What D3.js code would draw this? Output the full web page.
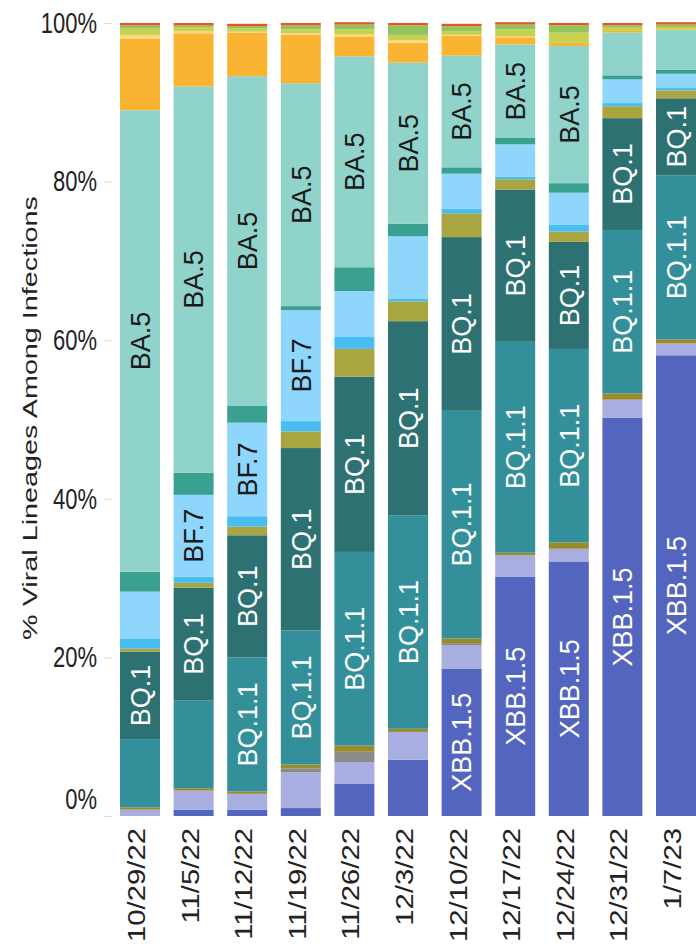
<!DOCTYPE html>
<html lang="en">
<head>
<meta charset="UTF-8">
<title>Viral Lineages Among Infections</title>
<script src="https://d3js.org/d3.v7.min.js"></script>
<style>
  body { margin: 0; background: #fff; }
  svg { display: block; }
  text { font-family: "Liberation Sans", Arial, sans-serif; }
</style>
</head>
<body>
<div id="chart"></div>
<script>
// weeks (x axis)
const weeks = ['10/29/22', '11/5/22', '11/12/22', '11/19/22', '11/26/22', '12/3/22',
               '12/10/22', '12/17/22', '12/24/22', '12/31/22', '1/7/23'];

// share of infections per lineage, % (bottom of stack first)
const xbb15    = [0,    0.8,  0.8,  1.0,  4.1,  7.1, 18.6, 30.2, 32.1, 50.2, 58.1];
const xbb      = [0.8,  2.4,  2.0,  4.5,  2.7,  3.5,  2.9,  2.7,  1.6,  2.3,  1.5];
const bn1      = [0,    0,    0,    0.5,  1.3,  0,    0.3,  0,    0,    0,    0];
const ba275    = [0.3,  0.3,  0.3,  0.5,  0.8,  0.4,  0.6,  0.3,  0.8,  0.8,  0.5];
const bq11     = [8.6, 11.1, 16.9, 16.9, 24.4, 26.9, 28.7, 26.6, 24.4, 20.6, 20.7];
const bq1      = [11.0, 14.2, 15.4, 23.0, 22.1, 24.5, 21.9, 19.2, 13.5, 14.1, 9.7];
const ba2752   = [0.4,  0.6,  1.1,  2.1,  3.5,  2.5,  3.0,  1.3,  1.3,  1.5,  1.0];
const bf11     = [1.3,  0.8,  1.3,  1.3,  1.5,  0.3,  0.6,  0.3,  0.9,  0.4,  0.3];
const bf7      = [5.9, 10.3, 11.8, 14.0,  5.8,  7.9,  4.4,  4.1,  4.0,  3.0,  1.8];
const ba526    = [2.5,  2.8,  2.1,  0.5,  3.0,  1.6,  0.8,  0.8,  1.2,  0.5,  0.5];
const ba5      = [58.2, 48.7, 41.6, 28.1, 26.6, 20.3, 14.1, 11.8, 17.3, 5.4,  5.0];
const ba46     = [9.0,  6.7,  5.5,  6.1,  2.5,  2.5,  2.5,  0.9,  0.4,  0.2,  0.1];
const ba4      = [0.5,  0.3,  0.1,  0.2,  0.3,  0.3,  0.1,  0.1,  0,    0,    0];
const ba2      = [0.8,  0.5,  0.4,  0.5,  0.6,  0.7,  0.5,  0.9,  1.3,  0.4,  0.3];
const ba2121   = [0.4,  0.2,  0.3,  0.5,  0.6,  1.2,  0.6,  0.6,  0.9,  0.3,  0.3];
const other    = [0.3,  0.3,  0.3,  0.3,  0.3,  0.3,  0.3,  0.3,  0.3,  0.3,  0.3];

const lineages = ['XBB.1.5', 'XBB', 'BN.1', 'BA.2.75', 'BQ.1.1', 'BQ.1', 'BA.2.75.2', 'BF.11',
                  'BF.7', 'BA.5.2.6', 'BA.5', 'BA.4.6', 'BA.4', 'BA.2', 'BA.2.12.1', 'Other'];
const series = [xbb15, xbb, bn1, ba275, bq11, bq1, ba2752, bf11, bf7, ba526, ba5, ba46, ba4, ba2, ba2121, other];
const colors = ['#5465bf', '#a8afe0', '#8a8a8a', '#9a8a2a', '#33909a', '#2d7172', '#a9a540', '#47bdf3',
                '#8ed6fb', '#3aa08f', '#90d3ca', '#fbb432', '#fcd67e', '#c6d24f', '#92c45c', '#e5552c'];

// which lineages carry a text label in each bar
const labelled = [
  ['BA.5', 'BQ.1'],
  ['BA.5', 'BF.7', 'BQ.1'],
  ['BA.5', 'BF.7', 'BQ.1', 'BQ.1.1'],
  ['BA.5', 'BF.7', 'BQ.1', 'BQ.1.1'],
  ['BA.5', 'BQ.1', 'BQ.1.1'],
  ['BA.5', 'BQ.1', 'BQ.1.1'],
  ['BA.5', 'BQ.1', 'BQ.1.1', 'XBB.1.5'],
  ['BA.5', 'BQ.1', 'BQ.1.1', 'XBB.1.5'],
  ['BA.5', 'BQ.1', 'BQ.1.1', 'XBB.1.5'],
  ['BQ.1', 'BQ.1.1', 'XBB.1.5'],
  ['BQ.1', 'BQ.1.1', 'XBB.1.5']
];
const darkText = ['BA.5', 'BF.7'];
const yTicks = [0, 20, 40, 60, 80, 100];

const width = 696, height = 947;

const table = weeks.map((w, i) => {
  const row = { week: w };
  lineages.forEach((name, j) => { row[name] = series[j][i]; });
  return row;
});

const stacked = d3.stack().keys(lineages)(table);

const x = d3.scaleBand()
  .domain(weeks)
  .range([113.2, 702.8])
  .paddingInner(0.254)
  .paddingOuter(0.127);

const y = d3.scaleLinear().domain([0, 100]).range([816, 23]);

const svg = d3.select('#chart')
  .append('svg')
  .attr('width', width)
  .attr('height', height);

// stacked bars
svg.selectAll('g.layer')
  .data(stacked)
  .join('g')
  .attr('class', 'layer')
  .attr('fill', (d, i) => colors[i])
  .selectAll('rect')
  .data(d => d)
  .join('rect')
  .attr('x', d => x(d.data.week))
  .attr('y', d => y(d[1]))
  .attr('width', x.bandwidth())
  .attr('height', d => Math.max(0, y(d[0]) - y(d[1])));

// segment labels
stacked.forEach(layer => {
  layer.forEach((d, i) => {
    if (!labelled[i].includes(layer.key)) return;
    const cx = x(d.data.week) + x.bandwidth() / 2;
    const cy = (y(d[0]) + y(d[1])) / 2;
    svg.append('text')
      .attr('transform', `translate(${cx},${cy}) rotate(-90)`)
      .attr('text-anchor', 'middle')
      .attr('dy', '0.36em')
      .attr('font-size', 27)
      .attr('fill', darkText.includes(layer.key) ? '#1a1a1a' : '#ffffff')
      .text(layer.key);
  });
});

// y axis
const yAxis = svg.append('g')
  .attr('transform', 'translate(112,0)')
  .call(d3.axisLeft(y).tickValues(yTicks).tickSize(8).tickPadding(7).tickFormat(d => d + '%'));
yAxis.select('.domain').remove();
yAxis.selectAll('.tick line').attr('stroke', '#d9d9d9');
yAxis.selectAll('.tick text')
  .attr('font-size', 22)
  .attr('font-family', '"Liberation Sans", Arial, sans-serif')
  .attr('fill', '#222')
  .attr('transform', d => d === 0 ? 'translate(0,-17) scale(1,1.33)' : 'scale(1,1.33)');

// x labels
svg.append('g')
  .selectAll('text')
  .data(weeks)
  .join('text')
  .attr('transform', d => `translate(${x(d) + x.bandwidth() / 2 + 5},828) rotate(-90) scale(1.22,1)`)
  .attr('text-anchor', 'end')
  .attr('font-size', 24)
  .attr('fill', '#222')
  .text(d => d);

// y axis title
svg.append('text')
  .attr('transform', 'translate(37,418) rotate(-90) scale(1.37,1)')
  .attr('text-anchor', 'middle')
  .attr('font-size', 21)
  .attr('fill', '#222')
  .text('% Viral Lineages Among Infections');
</script>
</body>
</html>
